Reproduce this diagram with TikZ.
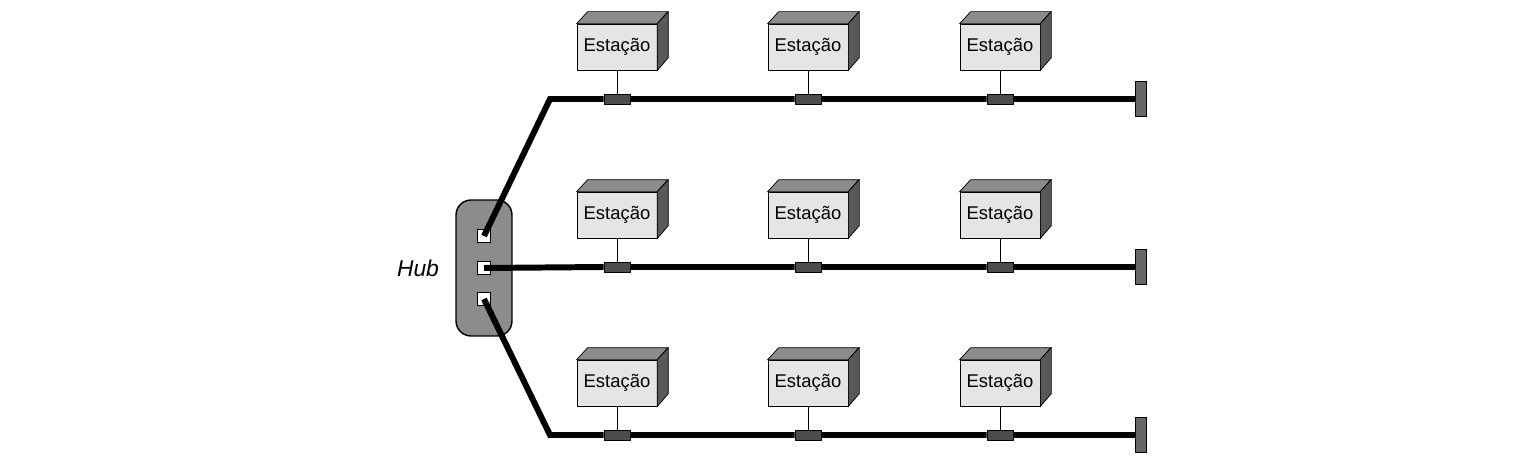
\documentclass[tikz,border=0pt]{standalone}
\usepackage{fontspec}
\setmainfont{Liberation Sans}
\usetikzlibrary{positioning,calc}
\begin{document}
\begin{tikzpicture}[x=0.02cm,y=-0.02cm,
                     bus/.style={line width=3.4pt},
                     station/.style={draw,fill=black!10,minimum width=1.6cm,minimum height=0.92cm,inner sep=0pt,font=\fontsize{10.5}{12}\selectfont},
                     tap/.style={draw,fill=black!70,minimum width=0.52cm,minimum height=0.2cm,inner sep=0pt},
                     port/.style={draw,thick,fill=white,minimum size=0.26cm,inner sep=0pt},
                     term/.style={draw,fill=black!60,minimum width=0.22cm,minimum height=0.7cm,inner sep=0pt}
                    ]
   \useasboundingbox (0,0) rectangle (1515,462);
   % hub
   \node[draw,thick,fill=black!45,rounded corners=0.3cm,minimum width=1.12cm,minimum height=2.72cm] (hub) at (484,268) {};
   \node[font=\fontsize{13}{15}\selectfont\itshape] (hublabel) at (418,268) {Hub};
   \foreach \r/\py in {1/236,2/268,3/299}
      \node[port] (p\r) at (484,\py) {};
   % buses with stations
   \foreach \r/\by in {1/99,2/267,3/435} {
      \coordinate (b\r) at (550,\by);
      \node[term] (t\r) at (1141,\by) {};
      \foreach \c/\sx in {1/617,2/808,3/1000} {
         \node[tap] (tap\r\c) at (\sx,\by) {};
         \node[station] (s\r\c) at (\sx,\by-52) {Estação};
         \fill[black!45,draw=black] (s\r\c.north west) -- ++(11,-12) -- ++(80,0) -- ($(s\r\c.north east)$) -- cycle;
         \fill[black!65,draw=black] (s\r\c.north east) -- ++(11,-12) -- ++(0,46) -- (s\r\c.south east) -- cycle;
         \draw (s\r\c.south) -- (tap\r\c.north);
      }
   }
   \draw[bus] (p1.center) -- (b1) -- (tap11.west) (tap11.east) -- (tap12.west) (tap12.east) -- (tap13.west) (tap13.east) -- (t1.west);
   \draw[bus] (p2.center) -- (tap21.west) (tap21.east) -- (tap22.west) (tap22.east) -- (tap23.west) (tap23.east) -- (t2.west);
   \draw[bus] (p3.center) -- (b3) -- (tap31.west) (tap31.east) -- (tap32.west) (tap32.east) -- (tap33.west) (tap33.east) -- (t3.west);
   \foreach \r in {1,2,3} \node[port,fill=none] at (p\r) {};
\end{tikzpicture}
\end{document}
